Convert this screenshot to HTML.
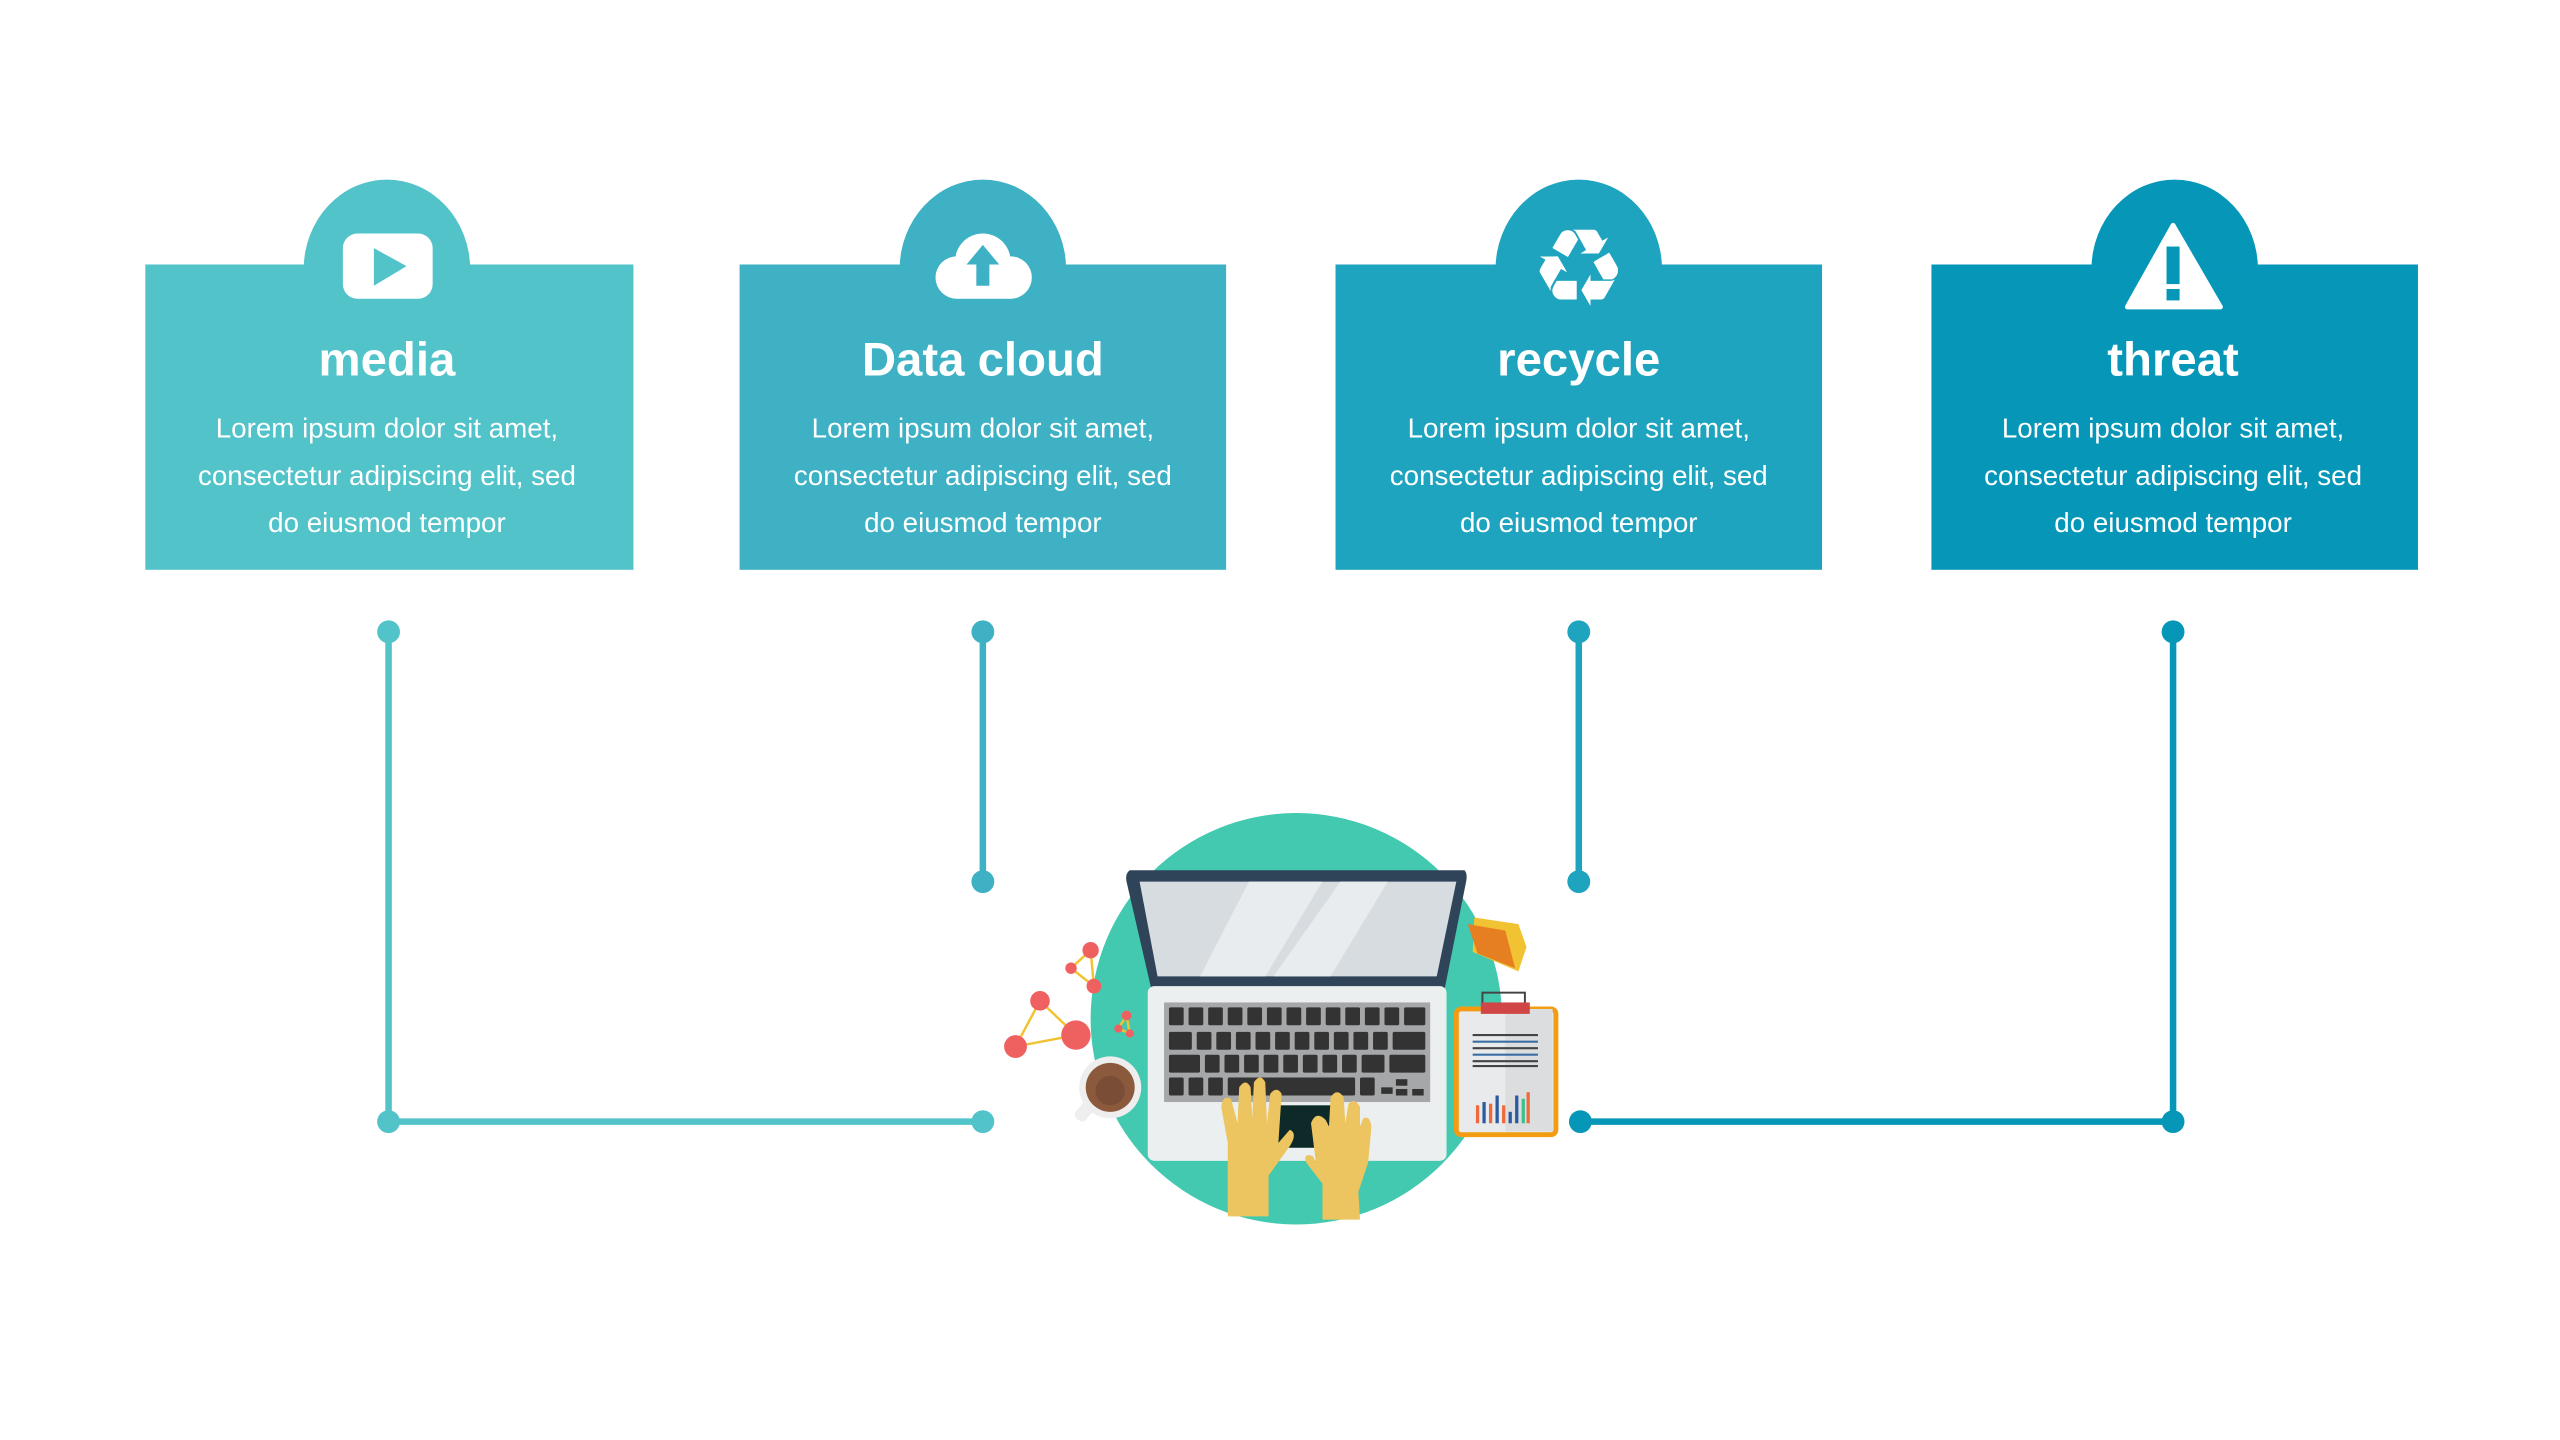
<!DOCTYPE html>
<html><head><meta charset="utf-8"><style>
html,body{margin:0;padding:0;background:#fff;}
svg{display:block;}
text{font-family:"Liberation Sans",sans-serif;fill:#fff;text-anchor:middle;}
.t{font-size:29px;font-weight:bold;}
.b{font-size:17px;font-weight:normal;}
</style></head><body>
<svg width="2560" height="1440" viewBox="0 0 1568 882" xmlns="http://www.w3.org/2000/svg">
<rect width="1568" height="882" fill="#fff"/>
<!-- cards -->
<g>
<path d="M186,165 A51,55 0 0 1 288,165 Z" fill="#52c3c9"/>
<rect x="89" y="162" width="299" height="187" fill="#52c3c9"/>
<rect x="210" y="143" width="55" height="40" rx="9" fill="#fff"/>
<path d="M229,152 L249,163 L229,175 Z" fill="#52c3c9"/>
<text class="t" x="237" y="230">media</text>
<text class="b" x="237" y="268">Lorem ipsum dolor sit amet,</text>
<text class="b" x="237" y="297">consectetur adipiscing elit, sed</text>
<text class="b" x="237" y="326">do eiusmod tempor</text>
</g>
<g>
<path d="M551,165 A51,55 0 0 1 653,165 Z" fill="#3eb1c4"/>
<rect x="453" y="162" width="298" height="187" fill="#3eb1c4"/>
<g fill="#fff"><circle cx="586" cy="170" r="13"/><circle cx="602" cy="160" r="17"/><circle cx="619" cy="170" r="13"/><rect x="586" y="165" width="33" height="18"/></g>
<path d="M602,150 L612,162 L606,162 L606,175 L598,175 L598,162 L592,162 Z" fill="#3eb1c4"/>
<text class="t" x="602" y="230">Data cloud</text>
<text class="b" x="602" y="268">Lorem ipsum dolor sit amet,</text>
<text class="b" x="602" y="297">consectetur adipiscing elit, sed</text>
<text class="b" x="602" y="326">do eiusmod tempor</text>
</g>
<g>
<path d="M916,165 A51,55 0 0 1 1018,165 Z" fill="#1fa4bf"/>
<rect x="818" y="162" width="298" height="187" fill="#1fa4bf"/>
<text x="967" y="187" style="font-family:'DejaVu Sans',sans-serif;font-size:66px;">♻</text>
<text class="t" x="967" y="230">recycle</text>
<text class="b" x="967" y="268">Lorem ipsum dolor sit amet,</text>
<text class="b" x="967" y="297">consectetur adipiscing elit, sed</text>
<text class="b" x="967" y="326">do eiusmod tempor</text>
</g>
<g>
<path d="M1281,165 A51,55 0 0 1 1383,165 Z" fill="#0596b8"/>
<rect x="1183" y="162" width="298" height="187" fill="#0596b8"/>
<path d="M1331,138 L1360,188 L1303,188 Z" fill="#fff" stroke="#fff" stroke-width="3" stroke-linejoin="round"/>
<rect x="1327" y="151" width="8" height="23" fill="#0596b8"/>
<rect x="1327" y="177" width="8" height="7" fill="#0596b8"/>
<text class="t" x="1331" y="230">threat</text>
<text class="b" x="1331" y="268">Lorem ipsum dolor sit amet,</text>
<text class="b" x="1331" y="297">consectetur adipiscing elit, sed</text>
<text class="b" x="1331" y="326">do eiusmod tempor</text>
</g>
<!-- connectors -->
<g stroke-width="4" fill="none">
<polyline points="238,387 238,687 602,687" stroke="#52c3c9"/>
<line x1="602" y1="387" x2="602" y2="540" stroke="#3eb1c4"/>
<line x1="967" y1="387" x2="967" y2="540" stroke="#1fa4bf"/>
<polyline points="1331,387 1331,687 968,687" stroke="#0596b8"/>
</g>
<g>
<circle cx="238" cy="387" r="7" fill="#52c3c9"/><circle cx="238" cy="687" r="7" fill="#52c3c9"/><circle cx="602" cy="687" r="7" fill="#52c3c9"/>
<circle cx="602" cy="387" r="7" fill="#3eb1c4"/><circle cx="602" cy="540" r="7" fill="#3eb1c4"/>
<circle cx="967" cy="387" r="7" fill="#1fa4bf"/><circle cx="967" cy="540" r="7" fill="#1fa4bf"/>
<circle cx="1331" cy="387" r="7" fill="#0596b8"/><circle cx="1331" cy="687" r="7" fill="#0596b8"/><circle cx="968" cy="687" r="7" fill="#0596b8"/>
</g>
<!-- illustration -->
<circle cx="794" cy="624" r="126" fill="#43c9b0"/>
<g stroke="#f1c232" stroke-width="1.5" fill="none">
<polyline points="637,613 659,634 622,641 637,613"/><polyline points="668,582 656,593 670,604 668,582"/><polyline points="690,622 685,630 692,633 690,622"/>
</g>
<g fill="#ef6161"><circle cx="637" cy="613" r="6"/><circle cx="659" cy="634" r="9"/><circle cx="622" cy="641" r="7"/><circle cx="668" cy="582" r="5"/><circle cx="656" cy="593" r="3.5"/><circle cx="670" cy="604" r="4.5"/><circle cx="690" cy="622" r="3"/><circle cx="685" cy="630" r="2.5"/><circle cx="692" cy="633" r="2.5"/></g>
<circle cx="680" cy="666" r="19" fill="#eeeeee"/><rect x="660" y="675" width="8" height="12" rx="3" fill="#eee" transform="rotate(40 664 681)"/>
<circle cx="680" cy="666" r="15" fill="#8b5a3c"/><circle cx="680" cy="668" r="9" fill="#7a4e36"/>
<path d="M903,562 L930,566 L935,580 L930,595 L902,583 Z" fill="#f1c232"/>
<path d="M899,566 L922,570 L928,593 L905,584 Z" fill="#e67e22"/>
<rect x="892" y="618" width="61" height="77" rx="3" fill="#e9eaec" stroke="#f39c12" stroke-width="3"/>
<rect x="922" y="618" width="29" height="75" fill="#dcdddf"/>
<rect x="908" y="608" width="26" height="8" fill="none" stroke="#444" stroke-width="1.2"/>
<rect x="907" y="614" width="30" height="7" fill="#d04545"/>
<g stroke-width="1.3"><line x1="902" y1="634" x2="942" y2="634" stroke="#444"/><line x1="902" y1="638" x2="942" y2="638" stroke="#3a6ea5"/><line x1="902" y1="642" x2="942" y2="642" stroke="#444"/><line x1="902" y1="646" x2="942" y2="646" stroke="#3a6ea5"/><line x1="902" y1="650" x2="942" y2="650" stroke="#444"/><line x1="902" y1="653" x2="942" y2="653" stroke="#444"/></g>
<g stroke-width="2"><line x1="905" y1="688" x2="905" y2="677" stroke="#ef6a3a"/><line x1="909" y1="688" x2="909" y2="675" stroke="#2a5ba0"/><line x1="913" y1="688" x2="913" y2="676" stroke="#ef6a3a"/><line x1="917" y1="688" x2="917" y2="671" stroke="#2a5ba0"/><line x1="921" y1="688" x2="921" y2="677" stroke="#ef6a3a"/><line x1="925" y1="688" x2="925" y2="681" stroke="#2a5ba0"/><line x1="929" y1="688" x2="929" y2="671" stroke="#2a5ba0"/><line x1="933" y1="688" x2="933" y2="673" stroke="#3cc08e"/><line x1="936" y1="688" x2="936" y2="669" stroke="#ef6a3a"/></g>
<path d="M692,533 L897,533 Q899,535 898,540 L885,605 L705,605 L690,540 Q689,535 692,533 Z" fill="#2f4459"/>
<path d="M698,540 L892,540 L880,598 L709,598 Z" fill="#d7dce0"/>
<path d="M765,540 L810,540 L775,598 L735,598 Z" fill="#e9ecee"/>
<path d="M821,540 L850,540 L815,598 L780,598 Z" fill="#e9ecee"/>
<rect x="703" y="604" width="183" height="107" rx="4" fill="#eceff0"/>
<rect x="713" y="614" width="163" height="61" fill="#a5a7a9"/>
<g fill="#333">
<rect x="716" y="617" width="9" height="11" rx="1"/><rect x="728" y="617" width="9" height="11" rx="1"/><rect x="740" y="617" width="9" height="11" rx="1"/><rect x="752" y="617" width="9" height="11" rx="1"/><rect x="764" y="617" width="9" height="11" rx="1"/><rect x="776" y="617" width="9" height="11" rx="1"/><rect x="788" y="617" width="9" height="11" rx="1"/><rect x="800" y="617" width="9" height="11" rx="1"/><rect x="812" y="617" width="9" height="11" rx="1"/><rect x="824" y="617" width="9" height="11" rx="1"/><rect x="836" y="617" width="9" height="11" rx="1"/><rect x="848" y="617" width="9" height="11" rx="1"/><rect x="860" y="617" width="13" height="11" rx="1"/>
<rect x="716" y="632" width="14" height="11" rx="1"/><rect x="733" y="632" width="9" height="11" rx="1"/><rect x="745" y="632" width="9" height="11" rx="1"/><rect x="757" y="632" width="9" height="11" rx="1"/><rect x="769" y="632" width="9" height="11" rx="1"/><rect x="781" y="632" width="9" height="11" rx="1"/><rect x="793" y="632" width="9" height="11" rx="1"/><rect x="805" y="632" width="9" height="11" rx="1"/><rect x="817" y="632" width="9" height="11" rx="1"/><rect x="829" y="632" width="9" height="11" rx="1"/><rect x="841" y="632" width="9" height="11" rx="1"/><rect x="853" y="632" width="20" height="11" rx="1"/>
<rect x="716" y="646" width="19" height="11" rx="1"/><rect x="738" y="646" width="9" height="11" rx="1"/><rect x="750" y="646" width="9" height="11" rx="1"/><rect x="762" y="646" width="9" height="11" rx="1"/><rect x="774" y="646" width="9" height="11" rx="1"/><rect x="786" y="646" width="9" height="11" rx="1"/><rect x="798" y="646" width="9" height="11" rx="1"/><rect x="810" y="646" width="9" height="11" rx="1"/><rect x="822" y="646" width="9" height="11" rx="1"/><rect x="834" y="646" width="14" height="11" rx="1"/><rect x="851" y="646" width="22" height="11" rx="1"/>
<rect x="716" y="660" width="9" height="11" rx="1"/><rect x="728" y="660" width="9" height="11" rx="1"/><rect x="740" y="660" width="9" height="11" rx="1"/><rect x="752" y="660" width="78" height="11" rx="1"/><rect x="833" y="660" width="9" height="11" rx="1"/><rect x="846" y="666" width="7" height="4"/><rect x="855" y="661" width="7" height="4"/><rect x="855" y="667" width="7" height="4"/><rect x="865" y="667" width="7" height="4"/>
</g>
<rect x="781" y="677" width="36" height="26" fill="#0d2a28"/>
<g fill="#ecc560">
<path d="M752,745 L752,700 L748,678 Q749,670 754,673 L758,688 L759,666 Q763,660 766,666 L767,685 L768,663 Q772,657 775,663 L776,688 L778,670 Q782,665 785,670 L783,700 L790,692 Q795,694 790,702 L777,720 L777,745 Z"/>
<path d="M810,747 L810,725 L800,712 Q798,706 804,708 L806,712 L803,688 Q806,680 812,686 L814,690 L815,672 Q819,666 823,672 L824,688 L826,676 Q830,672 833,678 L833,690 L835,685 Q839,683 840,690 L838,712 L832,730 L833,747 Z"/>
</g>
</svg>
</body></html>
